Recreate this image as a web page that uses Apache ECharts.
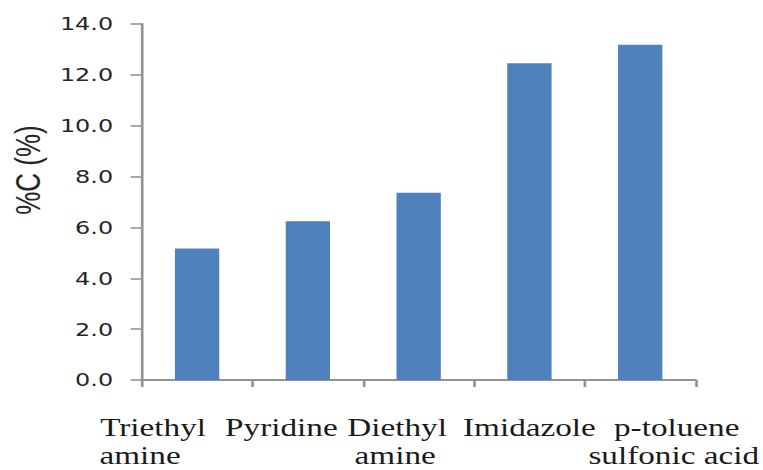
<!DOCTYPE html>
<html>
<head>
<meta charset="utf-8">
<script src="https://cdn.jsdelivr.net/npm/echarts@6/dist/echarts.min.js"></script>
<style>
  html, body { margin: 0; padding: 0; background: #ffffff; overflow: hidden; }
  #chart { width: 574px; height: 470px; transform: scaleX(1.32927); transform-origin: 0 0; }
</style>
</head>
<body>
<div id="chart"></div>
<script>
// ---- data ----
const categories = ['Triethyl\namine', 'Pyridine', 'Diethyl\namine', 'Imidazole', 'p-toluene\nsulfonic acid'];
const carbonPct = [5.17, 6.24, 7.36, 12.46, 13.18];
const yMin = 0;
const yMax = 14;
const yStep = 2;
const yAxisTitle = '%C (%)';

// ---- styling ----
const S = 763 / 574; // horizontal stretch of the picture
// per-line horizontal shift of the category labels (screen px), as in the picture
const labelShift = [[-44, -57], [-26.5], [-21.5, -23.5], [0], [36.5, 33.5]];
const labelFont = { fontFamily: 'Liberation Serif', fontSize: 25, lineHeight: 28, color: '#1a1a1a' };
const rich = {};
labelShift.forEach((lines, i) => {
  lines.forEach((d, j) => {
    const u = d / S;
    rich['c' + i + '_' + j] = Object.assign({}, labelFont, {
      padding: u < 0 ? [0, -2 * u, 0, 0] : [0, 0, 0, 2 * u]
    });
  });
});

const axisGray = '#939393';
const chart = echarts.init(document.getElementById('chart'), null, { renderer: 'svg' });
chart.setOption({
  animation: false,
  backgroundColor: '#ffffff',
  grid: { left: 106.6, right: 50.4, top: 24, bottom: 89.3, containLabel: false },
  xAxis: {
    type: 'category',
    data: categories,
    boundaryGap: true,
    axisLine: { show: true, lineStyle: { color: axisGray, width: 2 } },
    axisTick: { show: true, length: 7, alignWithLabel: false, lineStyle: { color: axisGray, width: 2 } },
    axisLabel: {
      interval: 0,
      margin: 34,
      fontFamily: 'Liberation Serif',
      fontSize: 25,
      lineHeight: 28,
      color: '#1a1a1a',
      formatter: (value, index) => value.split('\n').map((t, j) => '{c' + index + '_' + j + '|' + t + '}').join('\n'),
      rich: rich
    },
    splitLine: { show: false }
  },
  yAxis: {
    type: 'value',
    min: yMin,
    max: yMax,
    interval: yStep,
    axisLine: { show: true, lineStyle: { color: axisGray, width: 2 } },
    axisTick: { show: true, length: 8.3, lineStyle: { color: axisGray, width: 1.6 } },
    axisLabel: {
      margin: 21.5,
      fontFamily: 'DejaVu Sans',
      fontSize: 18,
      color: '#262626',
      formatter: v => v.toFixed(1)
    },
    splitLine: { show: false }
  },
  graphic: [{
    type: 'text',
    x: 21,
    y: 170,
    rotation: Math.PI / 2,
    style: {
      text: yAxisTitle,
      align: 'center',
      verticalAlign: 'middle',
      fontFamily: 'Liberation Sans',
      fontSize: 26,
      fill: '#262626'
    }
  }],
  series: [{
    type: 'bar',
    data: carbonPct,
    barWidth: '40%',
    itemStyle: { color: '#4F81BD' }
  }]
});
</script>
</body>
</html>
